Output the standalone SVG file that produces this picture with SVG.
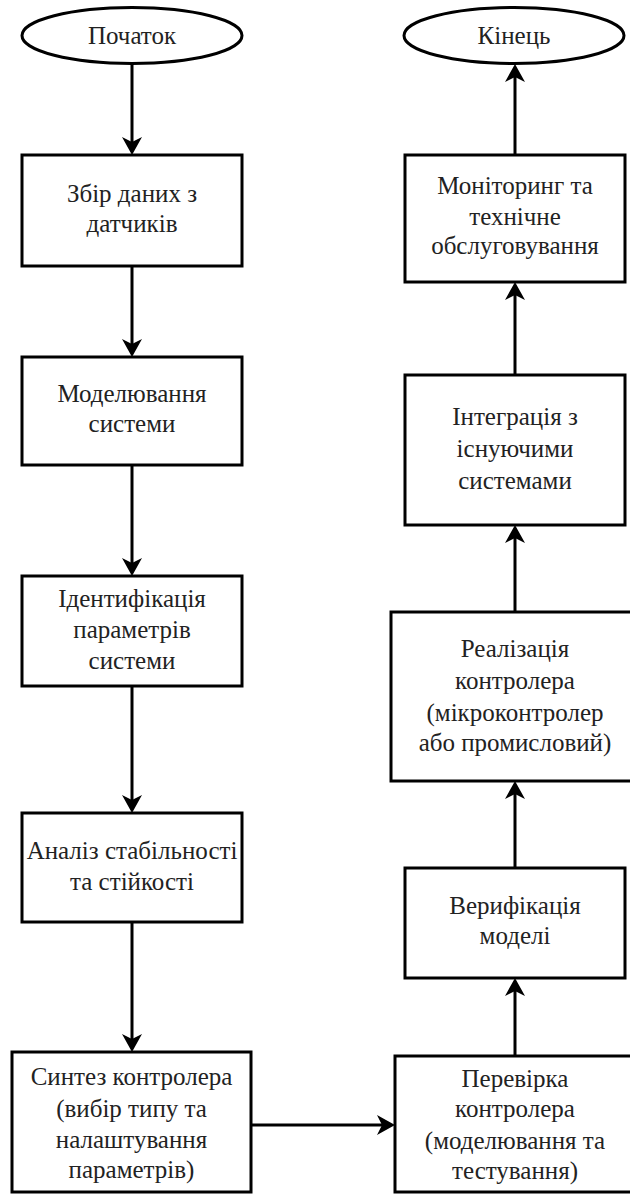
<svg xmlns="http://www.w3.org/2000/svg" width="630" height="1195" viewBox="0 0 630 1195" font-family="Liberation Serif, serif">
<style>
.n{fill:#fff;stroke:#000;stroke-width:3}
.c{fill:none;stroke:#000;stroke-width:3;marker-end:url(#ah)}
</style>
<defs>
<marker id="ah" viewBox="0 0 20 20" refX="8" refY="10" markerWidth="20" markerHeight="20" markerUnits="userSpaceOnUse" orient="auto">
<path d="M20,10 L2,0 L7,10 L2,20 Z" fill="#000"/>
</marker>
</defs>
<rect width="630" height="1195" fill="#fff"/>
<g id="connectors">
<line class="c" x1="132" y1="64" x2="132" y2="143"/>
<line class="c" x1="132" y1="266" x2="132" y2="345"/>
<line class="c" x1="132" y1="465" x2="132" y2="564"/>
<line class="c" x1="132" y1="686" x2="132" y2="801"/>
<line class="c" x1="132" y1="922" x2="132" y2="1040"/>
<line class="c" x1="251" y1="1125" x2="383" y2="1125"/>
<line class="c" x1="515" y1="1056" x2="515" y2="990"/>
<line class="c" x1="515" y1="868" x2="515" y2="793"/>
<line class="c" x1="515" y1="612" x2="515" y2="537"/>
<line class="c" x1="515" y1="375" x2="515" y2="294"/>
<line class="c" x1="515" y1="155" x2="515" y2="76"/>
</g>
<g id="start">
<ellipse class="n" cx="132" cy="35.5" rx="110" ry="28"/>
<text x="132" y="44" font-family="Liberation Serif" font-size="25" fill="#222" text-anchor="middle">Початок</text>
</g>
<g id="end">
<ellipse class="n" cx="514" cy="35.5" rx="110" ry="28"/>
<text x="514" y="44" font-family="Liberation Serif" font-size="25" fill="#222" text-anchor="middle">Кінець</text>
</g>
<g id="collect">
<rect class="n" x="22" y="155" width="220" height="111"/>
<text x="132" y="202" font-family="Liberation Serif" font-size="25" fill="#222" text-anchor="middle">Збір даних з</text>
<text x="132" y="232" font-family="Liberation Serif" font-size="25" fill="#222" text-anchor="middle">датчиків</text>
</g>
<g id="model">
<rect class="n" x="22" y="357" width="220" height="108"/>
<text x="132" y="402" font-family="Liberation Serif" font-size="25" fill="#222" text-anchor="middle">Моделювання</text>
<text x="132" y="432" font-family="Liberation Serif" font-size="25" fill="#222" text-anchor="middle">системи</text>
</g>
<g id="ident">
<rect class="n" x="22" y="576" width="220" height="110"/>
<text x="132" y="607" font-family="Liberation Serif" font-size="25" fill="#222" text-anchor="middle">Ідентифікація</text>
<text x="132" y="638" font-family="Liberation Serif" font-size="25" fill="#222" text-anchor="middle">параметрів</text>
<text x="132" y="669" font-family="Liberation Serif" font-size="25" fill="#222" text-anchor="middle">системи</text>
</g>
<g id="analysis">
<rect class="n" x="22" y="813" width="220" height="109"/>
<text x="132" y="859" font-family="Liberation Serif" font-size="25" fill="#222" text-anchor="middle">Аналіз стабільності</text>
<text x="132" y="890" font-family="Liberation Serif" font-size="25" fill="#222" text-anchor="middle">та стійкості</text>
</g>
<g id="synth">
<rect class="n" x="12" y="1052" width="239" height="140"/>
<text x="131.5" y="1085" font-family="Liberation Serif" font-size="25" fill="#222" text-anchor="middle">Синтез контролера</text>
<text x="131.5" y="1117" font-family="Liberation Serif" font-size="25" fill="#222" text-anchor="middle">(вибір типу та</text>
<text x="131.5" y="1148" font-family="Liberation Serif" font-size="25" fill="#222" text-anchor="middle">налаштування</text>
<text x="131.5" y="1178" font-family="Liberation Serif" font-size="25" fill="#222" text-anchor="middle">параметрів)</text>
</g>
<g id="check">
<rect class="n" x="395" y="1056" width="240" height="136"/>
<text x="515" y="1087" font-family="Liberation Serif" font-size="25" fill="#222" text-anchor="middle">Перевірка</text>
<text x="515" y="1117" font-family="Liberation Serif" font-size="25" fill="#222" text-anchor="middle">контролера</text>
<text x="515" y="1149" font-family="Liberation Serif" font-size="25" fill="#222" text-anchor="middle">(моделювання та</text>
<text x="515" y="1179" font-family="Liberation Serif" font-size="25" fill="#222" text-anchor="middle">тестування)</text>
</g>
<g id="verify">
<rect class="n" x="405" y="868" width="220" height="110"/>
<text x="515" y="914" font-family="Liberation Serif" font-size="25" fill="#222" text-anchor="middle">Верифікація</text>
<text x="515" y="944" font-family="Liberation Serif" font-size="25" fill="#222" text-anchor="middle">моделі</text>
</g>
<g id="impl">
<rect class="n" x="391" y="612" width="248" height="169"/>
<text x="515" y="657" font-family="Liberation Serif" font-size="25" fill="#222" text-anchor="middle">Реалізація</text>
<text x="515" y="689" font-family="Liberation Serif" font-size="25" fill="#222" text-anchor="middle">контролера</text>
<text x="515" y="721" font-family="Liberation Serif" font-size="25" fill="#222" text-anchor="middle">(мікроконтролер</text>
<text x="515" y="751" font-family="Liberation Serif" font-size="25" fill="#222" text-anchor="middle">або промисловий)</text>
</g>
<g id="integr">
<rect class="n" x="405" y="375" width="220" height="150"/>
<text x="515" y="425" font-family="Liberation Serif" font-size="25" fill="#222" text-anchor="middle">Інтеграція з</text>
<text x="515" y="457" font-family="Liberation Serif" font-size="25" fill="#222" text-anchor="middle">існуючими</text>
<text x="515" y="489" font-family="Liberation Serif" font-size="25" fill="#222" text-anchor="middle">системами</text>
</g>
<g id="monitor">
<rect class="n" x="405" y="155" width="220" height="127"/>
<text x="515" y="194" font-family="Liberation Serif" font-size="25" fill="#222" text-anchor="middle">Моніторинг та</text>
<text x="515" y="225" font-family="Liberation Serif" font-size="25" fill="#222" text-anchor="middle">технічне</text>
<text x="515" y="254" font-family="Liberation Serif" font-size="25" fill="#222" text-anchor="middle">обслуговування</text>
</g>
</svg>
